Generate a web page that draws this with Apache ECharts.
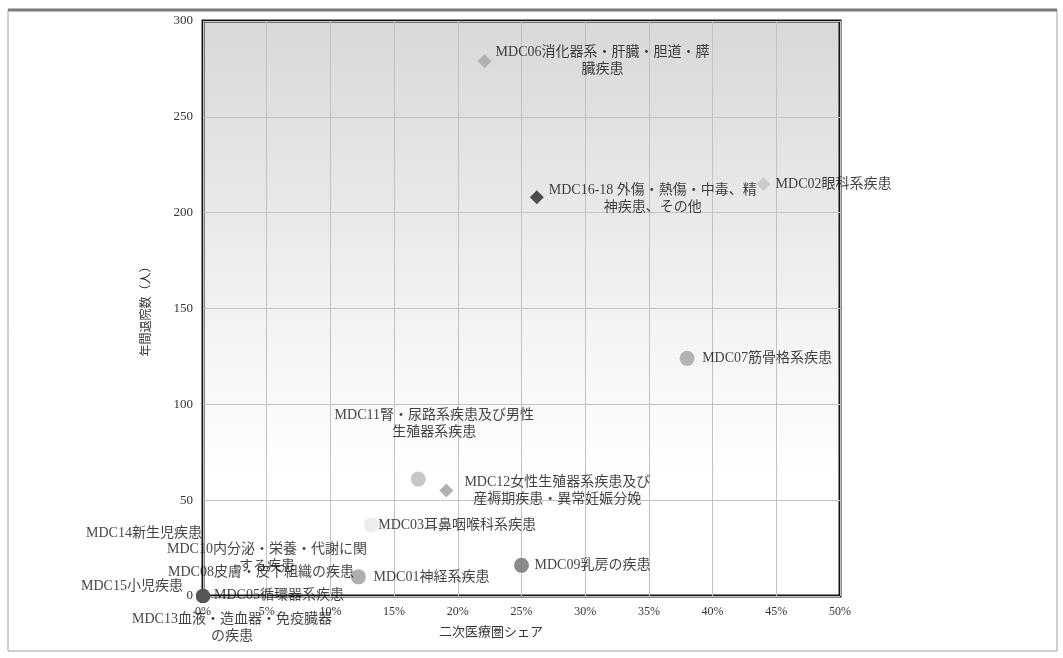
<!DOCTYPE html>
<html>
<head>
<meta charset="utf-8">
<style>
  html, body { margin: 0; padding: 0; background: #ffffff; }
  #chart { width: 1063px; height: 658px; }
</style>
<script src="https://cdn.jsdelivr.net/npm/echarts@6/dist/echarts.min.js"></script>
</head>
<body>
<div id="chart"></div>
<script>
// MDC categories: share of the secondary medical area (%) vs. yearly discharges (persons)
const categories = [
  'MDC13', 'MDC15', 'MDC14', 'MDC10', 'MDC08', 'MDC05',
  'MDC06', 'MDC16-18', 'MDC02', 'MDC07', 'MDC11', 'MDC12',
  'MDC03', 'MDC09', 'MDC01'
];
const labelTexts = [
  'MDC13血液・造血器・免疫臓器\nの疾患',
  'MDC15小児疾患',
  'MDC14新生児疾患',
  'MDC10内分泌・栄養・代謝に関\nする疾患',
  'MDC08皮膚・皮下組織の疾患',
  'MDC05循環器系疾患',
  'MDC06消化器系・肝臓・胆道・膵\n臓疾患',
  'MDC16-18 外傷・熱傷・中毒、精\n神疾患、その他',
  'MDC02眼科系疾患',
  'MDC07筋骨格系疾患',
  'MDC11腎・尿路系疾患及び男性\n生殖器系疾患',
  'MDC12女性生殖器系疾患及び\n産褥期疾患・異常妊娠分娩',
  'MDC03耳鼻咽喉科系疾患',
  'MDC09乳房の疾患',
  'MDC01神経系疾患'
];
const shareValues = [0, 0, 0, 0, 0, 0, 22.1, 26.2, 44.0, 38.0, 16.9, 19.1, 13.2, 25.0, 12.2];
const dischargeValues = [0, 0, 0, 0, 0, 0, 279, 208, 215, 124, 61, 55, 37, 16, 10];
const xTickStep = 5;
const yTickStep = 50;

// marker appearance and label placement (label centre relative to marker centre)
const markerStyles = {
  'MDC13':    { symbol: 'circle',  size: 14, color: '#595959', offset: [29, 32] },
  'MDC15':    { symbol: 'circle',  size: 14, color: '#595959', offset: [-71, -10] },
  'MDC14':    { symbol: 'circle',  size: 14, color: '#595959', offset: [-59, -63] },
  'MDC10':    { symbol: 'circle',  size: 14, color: '#595959', offset: [64, -38] },
  'MDC08':    { symbol: 'circle',  size: 14, color: '#595959', offset: [58, -24] },
  'MDC05':    { symbol: 'circle',  size: 14, color: '#555555', offset: [76, -1] },
  'MDC06':    { symbol: 'diamond', size: 14, color: '#a8a8a8', offset: [118, 0] },
  'MDC16-18': { symbol: 'diamond', size: 14, color: '#262626', offset: [116, 1] },
  'MDC02':    { symbol: 'diamond', size: 14, color: '#c4c4c4', offset: [70, 0] },
  'MDC07':    { symbol: 'circle',  size: 15, color: '#a3a3a3', offset: [80, 0] },
  'MDC11':    { symbol: 'circle',  size: 15, color: '#b8b8b8', offset: [16, -55] },
  'MDC12':    { symbol: 'diamond', size: 14, color: '#9e9e9e', offset: [111, 0] },
  'MDC03':    { symbol: 'circle',  size: 15, color: '#e9e9e9', offset: [86, 0] },
  'MDC09':    { symbol: 'circle',  size: 15, color: '#6e6e6e', offset: [71, 0] },
  'MDC01':    { symbol: 'circle',  size: 15, color: '#9a9a9a', offset: [73, 0] }
};

const textFont = "'Liberation Serif', 'Noto Sans CJK JP', serif";

const points = categories.map((name, i) => {
  const s = markerStyles[name];
  return {
    name: name,
    value: [shareValues[i], dischargeValues[i]],
    symbol: s.symbol,
    symbolSize: s.size,
    itemStyle: { color: s.color },
    label: {
      show: true,
      formatter: labelTexts[i],
      // position is measured from the symbol's top-left corner
      position: [s.size / 2 + s.offset[0], s.size / 2 + s.offset[1]],
      align: 'center',
      verticalAlign: 'middle',
      color: '#111111',
      fontSize: 14,
      lineHeight: 17,
      fontFamily: textFont
    }
  };
});

const chart = echarts.init(document.getElementById('chart'), null, { renderer: 'canvas' });

chart.setOption({
  backgroundColor: '#ffffff',
  animation: false,
  grid: {
    left: 203, top: 21, width: 637, height: 575,
    show: true,
    borderColor: '#141414',
    borderWidth: 3,
    backgroundColor: new echarts.graphic.LinearGradient(0, 0, 0, 1, [
      { offset: 0, color: '#d8d8d8' },
      { offset: 0.55, color: '#f4f4f4' },
      { offset: 0.8, color: '#ffffff' },
      { offset: 1, color: '#ffffff' }
    ])
  },
  xAxis: {
    type: 'value',
    min: 0, max: 50, interval: xTickStep,
    axisLine: { show: false },
    axisTick: { show: false },
    splitLine: { show: true, lineStyle: { color: '#c2c2c2', width: 1 } },
    axisLabel: {
      formatter: '{value}%',
      margin: 10,
      color: '#333333',
      fontSize: 12,
      fontFamily: textFont
    }
  },
  yAxis: {
    type: 'value',
    min: 0, max: 300, interval: yTickStep,
    name: '年間退院数（人）',
    nameLocation: 'middle',
    nameRotate: 90,
    nameGap: 50,
    nameTextStyle: { color: '#333333', fontSize: 12, fontFamily: textFont },
    axisLine: { show: false },
    axisTick: { show: false },
    splitLine: { show: true, lineStyle: { color: '#c2c2c2', width: 1 } },
    axisLabel: {
      margin: 10,
      color: '#333333',
      fontSize: 13,
      fontFamily: textFont
    }
  },
  graphic: [
    {
      type: 'rect',
      silent: true,
      z: -1,
      shape: { x: 8, y: 10, width: 1049, height: 641 },
      style: { fill: 'none', stroke: '#a0a0a0', lineWidth: 1 }
    },
    {
      type: 'line',
      silent: true,
      shape: { x1: 8, y1: 10, x2: 1057, y2: 10 },
      style: { stroke: '#7a7a7a', lineWidth: 3 }
    },
    {
      type: 'text',
      silent: true,
      x: 491, y: 633,
      style: {
        text: '二次医療圏シェア',
        fill: '#333333',
        fontSize: 13,
        fontFamily: textFont,
        align: 'center',
        verticalAlign: 'middle'
      }
    }
  ],
  series: [{
    type: 'scatter',
    data: points
  }]
});
</script>
</body>
</html>
